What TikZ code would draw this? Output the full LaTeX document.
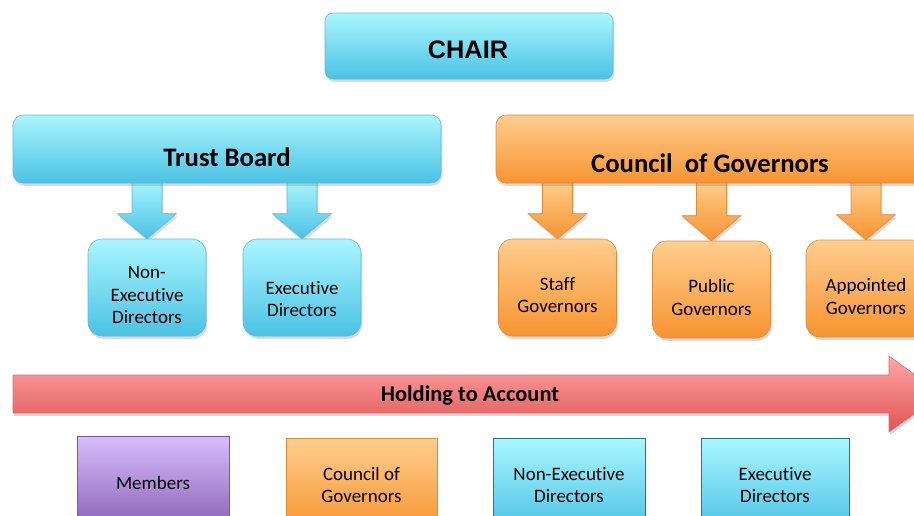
\documentclass[tikz,border=0pt]{standalone}
\usepackage{fontspec}
\setmainfont{Carlito}[Ligatures=NoCommon]
\newfontfamily\arialfont{Liberation Sans}
\definecolor{CyanTop}{RGB}{170,246,255}
\definecolor{CyanBot}{RGB}{74,194,228}
\definecolor{CyanLine}{RGB}{96,186,212}
\definecolor{TealLine}{RGB}{40,118,136}
\definecolor{OrangeTop}{RGB}{255,206,142}
\definecolor{OrangeBot}{RGB}{247,148,48}
\definecolor{OrangeLine}{RGB}{226,138,58}
\definecolor{RedTop}{RGB}{255,166,166}
\definecolor{RedBot}{RGB}{226,84,84}
\definecolor{RedLine}{RGB}{214,110,110}
\definecolor{PurpleTop}{RGB}{216,190,252}
\definecolor{PurpleBot}{RGB}{136,96,182}
\definecolor{PurpleLine}{RGB}{120,88,160}
\usetikzlibrary{shadows, calc, backgrounds}

\newcommand{\pu}{0.025cm}
% fat down arrow from a box edge to the top of a box
\newcommand{\blockdown}[3]{%
  \path[#1] ($(#2)+(-15,-4)$) -- ($(#3)+(-15,-25)$) -- ($(#3)+(-29.5,-25)$) -- (#3)
    -- ($(#3)+(29.5,-25)$) -- ($(#3)+(15,-25)$) -- ($(#2)+(15,-4)$) -- cycle;}

\begin{document}
\begin{tikzpicture}[x=\pu, y=-\pu,
  cyanfill/.style={top color=CyanTop, bottom color=CyanBot, draw=CyanLine},
  orangefill/.style={top color=OrangeTop, bottom color=OrangeBot, draw=OrangeLine},
  shade/.style={drop shadow={shadow xshift=0.03cm, shadow yshift=-0.07cm, opacity=0.3}},
  chairbox/.style={cyanfill, shade, rounded corners=0.2cm, minimum width=288*\pu, minimum height=66*\pu},
  chairtext/.style={font=\arialfont\bfseries\fontsize{18}{21}\selectfont},
  bigbox/.style={shade, rounded corners=0.25cm, minimum height=68*\pu},
  bigtitle/.style={font=\bfseries\fontsize{19}{22}\selectfont},
  smallbox/.style={shade, rounded corners=0.35cm, minimum width=118*\pu, minimum height=97*\pu},
  boxtext/.style={align=center, font=\fontsize{13.5}{16}\selectfont},
  cyanarrow/.style={top color=CyanTop, bottom color=CyanBot, draw=CyanLine, shade},
  orangearrow/.style={top color=OrangeTop, bottom color=OrangeBot, draw=OrangeLine, shade},
  lowbox/.style={shade, thin, minimum height=94*\pu, align=center, font=\fontsize{13.5}{15}\selectfont},
]
\useasboundingbox (0,0) rectangle (914,515);
\clip (0,0) rectangle (914,515);

% top
\node[chairbox] (chair) at (469,46) {};
\node[chairtext, anchor=base] (chairname) at (468,58) {CHAIR};

\node[bigbox, cyanfill, minimum width=428*\pu] (tb) at (227,149) {};
\node[bigtitle, anchor=base] (tbtext) at (227,166) {Trust Board};

\node[bigbox, orangefill, minimum width=440*\pu] (cg) at (716,149) {};
\node[bigtitle, anchor=base] (cgtext) at (710,172) {Council\ \ of Governors};

% second row
\node[smallbox, cyanfill] (ned) at (147,287.5) {};
\node[smallbox, cyanfill] (exd) at (302,287.5) {};
\node[smallbox, orangefill] (sg) at (557.5,287.5) {};
\node[smallbox, orangefill] (pg) at (711.5,289.5) {};
\node[smallbox, orangefill, minimum width=120*\pu] (ag) at (866,288.5) {};

\node[boxtext] (nedtext) at (147,295) {Non-\\Executive\\Directors};
\node[boxtext] (exdtext) at (302,299) {Executive\\Directors};
\node[boxtext] (sgtext) at (557.5,295) {Staff\\Governors};
\node[boxtext] (pgtext) at (711.5,297.5) {Public\\Governors};
\node[boxtext] (agtext) at (866,296.5) {Appointed\\Governors};

\begin{scope}[on background layer]
	\blockdown{cyanarrow}{tb.south -| ned.north}{ned.north}
	\blockdown{cyanarrow}{tb.south -| exd.north}{exd.north}
	\blockdown{orangearrow}{cg.south -| sg.north}{sg.north}
	\blockdown{orangearrow}{cg.south -| pg.north}{pg.north}
	\blockdown{orangearrow}{cg.south -| ag.north}{ag.north}
\end{scope}

% holding to account
\path[top color=RedTop, bottom color=RedBot, draw=RedLine, shade]
	(13,375) -- (889,375) -- (889,356) -- (942,394) -- (889,432) -- (889,413) -- (13,413) -- cycle;
\node[font=\bfseries\fontsize{16}{19}\selectfont] (hold) at (470,396) {Holding to Account};

% bottom row
\node[lowbox, top color=PurpleTop, bottom color=PurpleBot, draw=PurpleLine, minimum width=152*\pu] (mem) at (153,483) {Members};
\node[lowbox, orangefill, minimum width=151*\pu] (cog) at (361.5,485) {Council of\\Governors};
\node[lowbox, cyanfill, draw=TealLine, minimum width=152*\pu] (lned) at (569,485) {Non-Executive\\Directors};
\node[lowbox, cyanfill, draw=TealLine, minimum width=148*\pu] (lexd) at (775,485) {Executive\\Directors};
\end{tikzpicture}
\end{document}
